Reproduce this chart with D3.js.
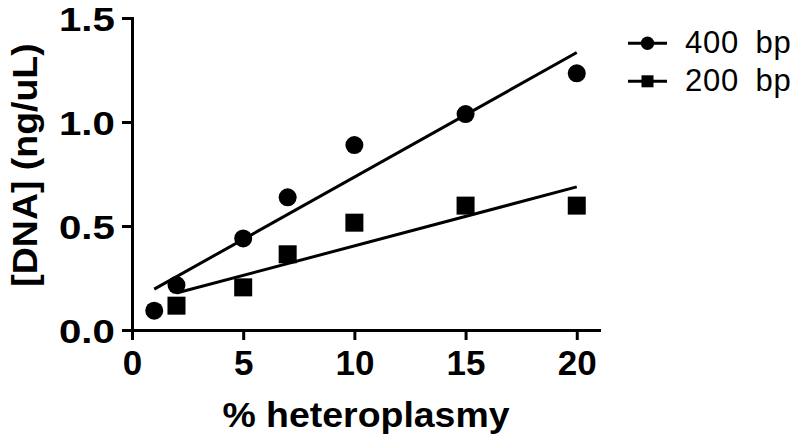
<!DOCTYPE html>
<html>
<head>
<meta charset="utf-8">
<script src="https://cdn.jsdelivr.net/npm/d3@7"></script>
<style>
  html, body { margin: 0; padding: 0; background: #fff; }
  svg { display: block; }
</style>
</head>
<body>
<svg id="chart" width="800" height="438"></svg>
<script>
// ---- data ----
const heteroplasmy400 = [1, 2, 5, 7, 10, 15, 20];
const dna400 = [0.093, 0.216, 0.44, 0.638, 0.889, 1.038, 1.234];
const heteroplasmy200 = [2, 5, 7, 10, 15, 20];
const dna200 = [0.117, 0.205, 0.364, 0.516, 0.598, 0.598];
const seriesNames = ["400 bp", "200 bp"];
const xTicks = [0, 5, 10, 15, 20];
const yTicks = [0, 0.5, 1.0, 1.5];
const xTitle = "% heteroplasmy";
const yTitle = "[DNA] (ng/uL)";

const svg = d3.select("#chart");
const ink = "#000";
const font = "'Liberation Sans', Arial, Helvetica, sans-serif";

const x = d3.scaleLinear().domain([0, 21]).range([132, 599]);
const y = d3.scaleLinear().domain([0, 1.5]).range([330, 18]);

// axes
const xAxis = svg.append("g").attr("transform", `translate(0,${y(0)})`)
  .call(d3.axisBottom(x).tickValues(xTicks).tickSize(10).tickSizeOuter(0).tickPadding(10).tickFormat(d3.format("d")));
const yAxis = svg.append("g").attr("transform", `translate(${x(0)},0)`)
  .call(d3.axisLeft(y).tickValues(yTicks).tickSize(10).tickSizeOuter(0).tickPadding(4).tickFormat(d3.format(".1f")));

[xAxis, yAxis].forEach(g => {
  g.select(".domain").attr("stroke", ink).attr("stroke-width", 3).attr("stroke-linecap", "square");
  g.selectAll(".tick line").attr("stroke", ink).attr("stroke-width", 3);
  g.selectAll(".tick text").attr("fill", ink).attr("font-family", font).attr("font-weight", "bold");
});
xAxis.selectAll(".tick text").attr("font-size", 35);
yAxis.selectAll(".tick text").attr("font-size", 33).attr("dy", "0.37em").attr("transform", "scale(1.22,1)");

// titles
svg.append("text").attr("x", 366).attr("y", 427).attr("text-anchor", "middle")
  .attr("font-family", font).attr("font-weight", "bold").attr("font-size", 35).attr("fill", ink)
  .attr("transform", "translate(366,0) scale(1.07,1) translate(-366,0)")
  .text(xTitle);
svg.append("text").attr("text-anchor", "middle")
  .attr("transform", "translate(37,165) rotate(-90) scale(1.07,1)")
  .attr("font-family", font).attr("font-weight", "bold").attr("font-size", 35).attr("fill", ink)
  .text(yTitle);

// least-squares fit
function fit(xs, ys) {
  const mx = d3.mean(xs), my = d3.mean(ys);
  let sxy = 0, sxx = 0;
  xs.forEach((v, i) => { sxy += (v - mx) * (ys[i] - my); sxx += (v - mx) * (v - mx); });
  const b = sxy / sxx, a = my - b * mx;
  const ext = d3.extent(xs);
  return ext.map(v => [v, a + b * v]);
}
const line = d3.line().x(d => x(d[0])).y(d => y(d[1]));

const series = [
  { name: seriesNames[0], xs: heteroplasmy400, ys: dna400, shape: "circle" },
  { name: seriesNames[1], xs: heteroplasmy200, ys: dna200, shape: "square" }
];

series.forEach(s => {
  svg.append("path").attr("d", line(fit(s.xs, s.ys)))
    .attr("fill", "none").attr("stroke", ink).attr("stroke-width", 3);
});
series.forEach(s => {
  const pts = s.xs.map((v, i) => [v, s.ys[i]]);
  if (s.shape === "circle") {
    svg.append("g").selectAll("circle").data(pts).join("circle")
      .attr("cx", d => x(d[0])).attr("cy", d => y(d[1])).attr("r", 9).attr("fill", ink);
  } else {
    svg.append("g").selectAll("rect").data(pts).join("rect")
      .attr("x", d => x(d[0]) - 9).attr("y", d => y(d[1]) - 9)
      .attr("width", 18).attr("height", 18).attr("fill", ink);
  }
});

// legend
const legend = svg.append("g");
series.forEach((s, i) => {
  const cy = 43.3 + i * 38;
  const g = legend.append("g").attr("transform", `translate(0,${cy})`);
  g.append("line").attr("x1", 628).attr("x2", 667).attr("y1", 0).attr("y2", 0)
    .attr("stroke", ink).attr("stroke-width", 3);
  if (s.shape === "circle") {
    g.append("circle").attr("cx", 647.5).attr("cy", 0).attr("r", 6.7).attr("fill", ink);
  } else {
    g.append("rect").attr("x", 641.5).attr("y", -6).attr("width", 12).attr("height", 12).attr("fill", ink);
  }
  g.append("text").attr("x", 685).attr("y", 10).attr("font-family", font)
    .attr("font-size", 31).attr("fill", ink).attr("word-spacing", 7).attr("letter-spacing", 0.8)
    .text(s.name);
});
</script>
</body>
</html>
